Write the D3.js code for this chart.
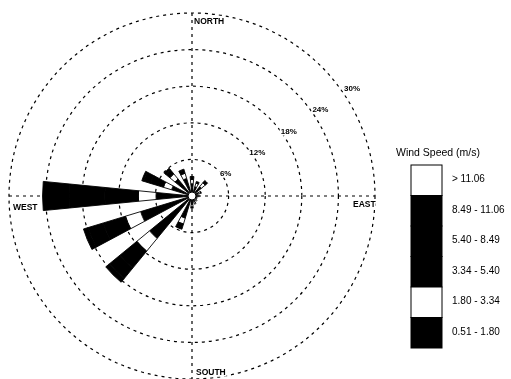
<!DOCTYPE html>
<html>
<head>
<meta charset="utf-8">
<script src="https://cdn.jsdelivr.net/npm/d3@7"></script>
<style>
  body { margin: 0; background: #fff; }
  svg { will-change: transform; }
  text { font-family: "Liberation Sans", Arial, sans-serif; }
</style>
</head>
<body>
<div id="chart"></div>
<script>
// 16 compass sectors, clockwise from north
var directions = ["N","NNE","NE","ENE","E","ESE","SE","SSE","S","SSW","SW","WSW","W","WNW","NW","NNW"];
var directionAngles = [0,22.5,45,67.5,90,112.5,135,157.5,180,202.5,225,247.5,270,292.5,315,337.5];

// frequency (%) of each wind speed class per direction
var ws051_180  = [2.0,1.6,2.0,1.1,0.9,0.7,0.8,1.0,1.4,3.8,9.0,8.8,5.9,3.5,3.6,3.0];
var ws180_334  = [0.7,0.6,0.8,0.4,0.3,0.2,0.3,0.4,0.4,1.0,2.7,2.6,2.9,1.4,1.1,0.9];
var ws334_540  = [0.5,0.3,0.5,0.1,0,0,0,0,0.2,0.9,3.6,3.8,5.5,2.2,0.8,0.5];
var ws540_849  = [0,0,0,0,0,0,0,0,0,0,2.2,2.6,5.8,1.2,0.4,0.2];
var ws849_1106 = [0,0,0,0,0,0,0,0,0,0,0.8,0.8,4.4,0.3,0,0];
var wsOver1106 = [0,0,0,0,0,0,0,0,0,0,0,0,0,0,0,0];

var speedClasses = ["0.51 - 1.80","1.80 - 3.34","3.34 - 5.40","5.40 - 8.49","8.49 - 11.06","> 11.06"];
var ringTicks = [6,12,18,24,30];
var compassLabels = ["NORTH","EAST","SOUTH","WEST"];

var series = [ws051_180, ws180_334, ws334_540, ws540_849, ws849_1106, wsOver1106];
var classFill = ["#000","#fff","#000","#000","#000","#fff"];

var width = 511, height = 379;
var cx = 192, cy = 196;
var maxR = 183;

var svg = d3.select("#chart").append("svg")
    .attr("width", width)
    .attr("height", height);

var r = d3.scaleLinear().domain([0, 30]).range([0, maxR]);
var toRad = function(deg){ return deg * Math.PI / 180; };

var g = svg.append("g").attr("transform", "translate(" + cx + "," + cy + ")");

// dashed rings
g.selectAll(".ring")
    .data(ringTicks)
    .enter().append("circle")
    .attr("class", "ring")
    .attr("r", function(d){ return r(d); })
    .attr("fill", "none")
    .attr("stroke", "#000")
    .attr("stroke-width", 1.2)
    .attr("stroke-dasharray", "3,4");

// dashed axes
g.append("line")
    .attr("x1", -r(30)).attr("x2", r(30)).attr("y1", 0).attr("y2", 0)
    .attr("stroke", "#000").attr("stroke-width", 1.2).attr("stroke-dasharray", "3,4");
g.append("line")
    .attr("x1", 0).attr("x2", 0).attr("y1", -r(30)).attr("y2", r(30))
    .attr("stroke", "#000").attr("stroke-width", 1.2).attr("stroke-dasharray", "3,4");

// petals: stack the classes outward
var halfWidth = toRad(5.6);
var arc = d3.arc();
var stacked = [];
directions.forEach(function(dir, i){
    var base = 0;
    series.forEach(function(s, k){
        var v = s[i];
        if (v > 0) {
            stacked.push({dir: dir, angle: toRad(directionAngles[i]), k: k, from: base, to: base + v});
        }
        base += v;
    });
});

g.selectAll(".petal")
    .data(stacked)
    .enter().append("path")
    .attr("class", "petal")
    .attr("d", function(d){
        return arc({innerRadius: r(d.from), outerRadius: r(d.to),
                    startAngle: d.angle - halfWidth, endAngle: d.angle + halfWidth});
    })
    .attr("fill", function(d){ return classFill[d.k]; })
    .attr("stroke", "#000")
    .attr("stroke-width", 0.9);

// calm circle
g.append("circle").attr("r", 4).attr("fill", "#fff").attr("stroke", "#000").attr("stroke-width", 1);

// labels sit on the dashed lines, so draw a white halo first, then the black text
function haloText(sel, cls, data, x, y, size, anchor){
    ["halo", "ink"].forEach(function(layer){
        sel.selectAll("." + cls + "-" + layer)
            .data(data)
            .enter().append("text")
            .attr("class", cls + "-" + layer)
            .attr("x", x)
            .attr("y", y)
            .attr("text-anchor", anchor)
            .style("font-size", size)
            .style("font-weight", "bold")
            .style("fill", layer == "halo" ? "#fff" : "#000")
            .style("stroke", layer == "halo" ? "#fff" : "none")
            .style("stroke-width", 3)
            .text(function(d){ return d; });
    });
}

// ring labels
var labelAngle = toRad(34);
var ringText = ringTicks.map(function(d){ return d + "%"; });
haloText(g, "ringLabel", ringText,
    function(d, i){ return (r(ringTicks[i]) + 4 + i * 1.5) * Math.cos(labelAngle); },
    function(d, i){ return -(r(ringTicks[i]) + 4 + i * 1.5) * Math.sin(labelAngle) + 3; },
    "8px", "middle");

// compass labels
var compassPos = [[2, -r(30) + 11], [r(30) - 22, 11], [4, r(30) - 4], [-r(30) + 4, 14]];
haloText(g, "compass", compassLabels,
    function(d, i){ return compassPos[i][0]; },
    function(d, i){ return compassPos[i][1]; },
    "8.5px", "start");

// legend
var legend = svg.append("g").attr("transform", "translate(411,165)");
legend.append("text")
    .attr("x", -15).attr("y", -9)
    .style("font-size", "10.5px")
    .text("Wind Speed (m/s)");

var boxH = 30.5, boxW = 31;
var legendOrder = speedClasses.map(function(d, k){ return k; }).reverse();
legend.selectAll(".lbox")
    .data(legendOrder)
    .enter().append("rect")
    .attr("class", "lbox")
    .attr("x", 0)
    .attr("y", function(d, i){ return i * boxH; })
    .attr("width", boxW)
    .attr("height", boxH)
    .attr("fill", function(k){ return classFill[k]; })
    .attr("stroke", "#000")
    .attr("stroke-width", 1);
legend.selectAll(".llabel")
    .data(legendOrder)
    .enter().append("text")
    .attr("class", "llabel")
    .attr("x", boxW + 10)
    .attr("y", function(d, i){ return i * boxH + boxH / 2 + 2; })
    .style("font-size", "10px")
    .text(function(k){ return speedClasses[k]; });
</script>
</body>
</html>
